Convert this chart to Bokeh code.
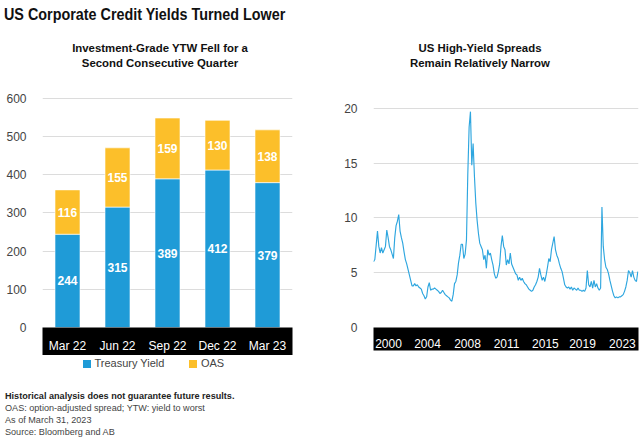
import numpy as np
from bokeh.plotting import figure
from bokeh.models import (ColumnDataSource, Range1d, FixedTicker, Div)
from bokeh.layouts import column, row
from bokeh.embed import file_html
from bokeh.resources import INLINE
from bokeh.core.properties import value

# ---------------- data ----------------
quarters = ["Mar 22", "Jun 22", "Sep 22", "Dec 22", "Mar 23"]
treasury_yield = [244, 315, 389, 412, 379]
oas = [116, 155, 159, 130, 138]
series_names = ["Treasury Yield", "OAS"]
left_ticks = [0, 100, 200, 300, 400, 500, 600]

hy_start, hy_end = 2000.66, 2023.21
hy_spread = [
    6.0, 6.2, 7.5, 8.8, 7.4, 6.8, 7.3, 6.8, 7.1, 7.4,
    8.9, 8.2, 7.4, 7.1, 6.7, 6.3, 8.2, 9.3, 9.7, 10.3,
    8.8, 8.2, 7.7, 6.9, 6.2, 5.8, 5.3, 4.8, 4.3, 3.8,
    3.8, 4.0, 3.8, 3.9, 3.7, 3.6, 3.5, 3.1, 2.9, 2.6,
    2.8, 3.7, 4.1, 3.4, 3.5, 3.5, 3.6, 3.5, 3.4, 3.3,
    3.1, 3.2, 3.4, 3.2, 3.0, 2.9, 2.8, 2.7, 2.5, 2.4,
    3.0, 4.0, 4.2, 4.8, 5.9, 6.6, 7.6, 7.6, 6.3, 6.7,
    8.0, 14.0, 18.3, 19.7, 14.8, 16.8, 13.8, 11.4, 9.8, 8.6,
    7.7, 7.4, 7.1, 6.2, 6.6, 5.4, 7.1, 6.6, 6.8, 6.2,
    5.7, 4.9, 4.5, 4.6, 5.1, 5.8, 7.4, 8.4, 7.4, 7.1,
    5.7, 6.2, 5.8, 6.8, 5.8, 5.5, 5.2, 4.9, 4.8, 4.3,
    4.6, 4.3, 4.5, 4.2, 4.0, 3.9, 3.7, 3.5, 3.4, 3.3,
    3.4, 3.7, 3.9, 4.2, 4.6, 5.4, 4.8, 4.3, 4.6, 4.2,
    4.8, 5.5, 6.3, 6.0, 7.1, 7.7, 8.3, 7.1, 6.6, 6.3,
    5.8, 5.4, 5.1, 4.5, 3.9, 3.7, 3.6, 3.7, 3.5, 3.7,
    3.4, 3.6, 3.5, 3.4, 3.6, 3.4, 3.4, 3.3, 3.4, 3.3,
    3.6, 5.2, 3.9, 3.7, 4.2, 3.6, 4.3, 3.7, 4.0, 3.6,
    3.4, 3.6, 11.0, 7.4, 6.2, 5.5, 5.3, 4.9, 4.3, 3.8,
    3.3, 2.9, 2.7, 2.8, 2.7, 2.8, 2.8, 2.9, 3.0, 3.3,
    3.7, 4.3, 5.2, 5.0, 4.6, 5.2, 4.6, 4.3, 4.2, 5.1,
]
year_tick_pos = [2001.94, 2005.27, 2008.68, 2012.01, 2015.33, 2018.49, 2021.90]
year_tick_labels = ["2000", "2004", "2008", "2011", "2015", "2019", "2023"]
right_ticks = [0, 5, 10, 15, 20]

BLUE = "#1f9bd7"
ORANGE = "#fcbf2a"
LINE = "#2ea6df"
GRID = "#dcdcdc"
TXT = "#444444"
SANS = "Liberation Sans"

# ---------------- header divs ----------------
title_div = Div(
    text=('<div style="font-family:\'Liberation Sans\',sans-serif;'
          'font-size:16.5px;font-weight:bold;color:#111;line-height:17px;padding-top:6px;'
          'transform:scaleX(0.87);transform-origin:0 0;margin-left:4px;white-space:nowrap">'
          'US Corporate Credit Yields Turned Lower</div>'),
    width=640, height=26, margin=(0, 0, 0, 0))

sub_style = ('font-family:\'Liberation Sans\',sans-serif;font-size:11.4px;font-weight:bold;color:#111;'
             'line-height:14.5px;text-align:center;padding-top:15px;white-space:nowrap;width:320px;')
sub_left = Div(text=f'<div style="{sub_style}">Investment-Grade YTW Fell for a<br>Second Consecutive Quarter</div>',
               width=320, height=46, margin=(0, 0, 0, 0))
sub_right = Div(text=f'<div style="{sub_style}">US High-Yield Spreads<br>Remain Relatively Narrow</div>',
                width=320, height=46, margin=(0, 0, 0, 0))

# ---------------- left chart ----------------
src = ColumnDataSource(dict(
    q=quarters, treasury=treasury_yield, oas=oas,
    t_mid=[t / 2 for t in treasury_yield],
    o_mid=[t + o / 2 for t, o in zip(treasury_yield, oas)],
    t_lbl=[str(t) for t in treasury_yield],
    o_lbl=[str(o) for o in oas],
))

p1 = figure(x_range=quarters, y_range=Range1d(0, 620), width=320, height=283,
            min_border_left=42, min_border_right=28, min_border_top=18, min_border_bottom=25,
            output_backend="svg", toolbar_location=None)
p1.vbar_stack(["treasury", "oas"], x="q", width=0.5, color=[BLUE, ORANGE], source=src,
              line_color="white", line_width=0.6)
p1.text(x="q", y="t_mid", text="t_lbl", source=src, text_color="white", text_font=value(SANS),
        text_font_size="12px", text_font_style="bold", text_align="center", text_baseline="middle")
p1.text(x="q", y="o_mid", text="o_lbl", source=src, text_color="white", text_font=value(SANS),
        text_font_size="12px", text_font_style="bold", text_align="center", text_baseline="middle")

p1.outline_line_color = None
p1.xgrid.grid_line_color = None
p1.ygrid.grid_line_color = GRID
p1.ygrid.ticker = FixedTicker(ticks=left_ticks)
p1.yaxis.ticker = FixedTicker(ticks=left_ticks)
for ax in (p1.yaxis[0], p1.xaxis[0]):
    ax.axis_line_color = None
    ax.major_tick_line_color = None
    ax.minor_tick_line_color = None
p1.yaxis.major_label_text_font = SANS
p1.yaxis.major_label_text_font_size = "12px"
p1.yaxis.major_label_text_color = TXT
p1.yaxis.major_label_standoff = 10
p1.xaxis.major_label_text_font = SANS
p1.xaxis.major_label_text_font_size = "12px"
p1.xaxis.major_label_text_color = "white"
p1.xaxis.major_label_standoff = 5
p1.xaxis.background_fill_color = "black"

# ---------------- right chart ----------------
hy_x = np.linspace(hy_start, hy_end, len(hy_spread))
p2 = figure(x_range=Range1d(2000.66, 2023.27), y_range=Range1d(0, 21.63), width=320, height=283,
            min_border_left=53, min_border_right=2, min_border_top=18, min_border_bottom=25,
            output_backend="svg", toolbar_location=None)
p2.line(hy_x, hy_spread, color=LINE, line_width=1.15)
p2.outline_line_color = None
p2.xgrid.grid_line_color = None
p2.ygrid.grid_line_color = GRID
p2.ygrid.ticker = FixedTicker(ticks=right_ticks)
p2.yaxis.ticker = FixedTicker(ticks=right_ticks)
p2.xaxis.ticker = FixedTicker(ticks=year_tick_pos)
p2.xaxis.major_label_overrides = dict(zip(year_tick_pos, year_tick_labels))
for ax in (p2.yaxis[0], p2.xaxis[0]):
    ax.axis_line_color = None
    ax.major_tick_line_color = None
    ax.minor_tick_line_color = None
p2.yaxis.major_label_text_font = SANS
p2.yaxis.major_label_text_font_size = "12px"
p2.yaxis.major_label_text_color = TXT
p2.yaxis.major_label_standoff = 10
p2.xaxis.major_label_text_font = SANS
p2.xaxis.major_label_text_font_size = "12px"
p2.xaxis.major_label_text_color = "white"
p2.xaxis.major_label_standoff = 5
p2.xaxis.background_fill_color = "black"

# ---------------- legend (left chart) ----------------
sq = 'display:inline-block;width:8px;height:8px;flex:none;'
legend_div = Div(
    text=(f'<div style="display:flex;align-items:center;height:12px;margin-top:3px;margin-left:83px;'
          f'font-family:\'Liberation Sans\',sans-serif;font-size:11px;color:{TXT};white-space:nowrap">'
          f'<span style="{sq}background:{BLUE}"></span><span style="margin-left:3.5px">{series_names[0]}</span>'
          f'<span style="{sq}background:{ORANGE};margin-left:25px"></span><span style="margin-left:3.5px">{series_names[1]}</span>'
          f'</div>'),
    width=320, height=20, margin=(0, 0, 0, 0))

# ---------------- footnotes ----------------
notes = Div(
    text=('<div style="font-family:\'Liberation Sans\',sans-serif;font-size:9.1px;color:#444;'
          'line-height:12px;padding-top:15px;margin-left:5px;white-space:nowrap">'
          '<b style="color:#222">Historical analysis does not guarantee future results.</b><br>'
          'OAS: option-adjusted spread; YTW: yield to worst<br>'
          'As of March 31, 2023<br>'
          'Source: Bloomberg and AB</div>'),
    width=400, height=63, margin=(0, 0, 0, 0))

layout = column(title_div, row(sub_left, sub_right), row(p1, p2), legend_div, notes)
open("out.html", "w").write(file_html(layout, INLINE))
